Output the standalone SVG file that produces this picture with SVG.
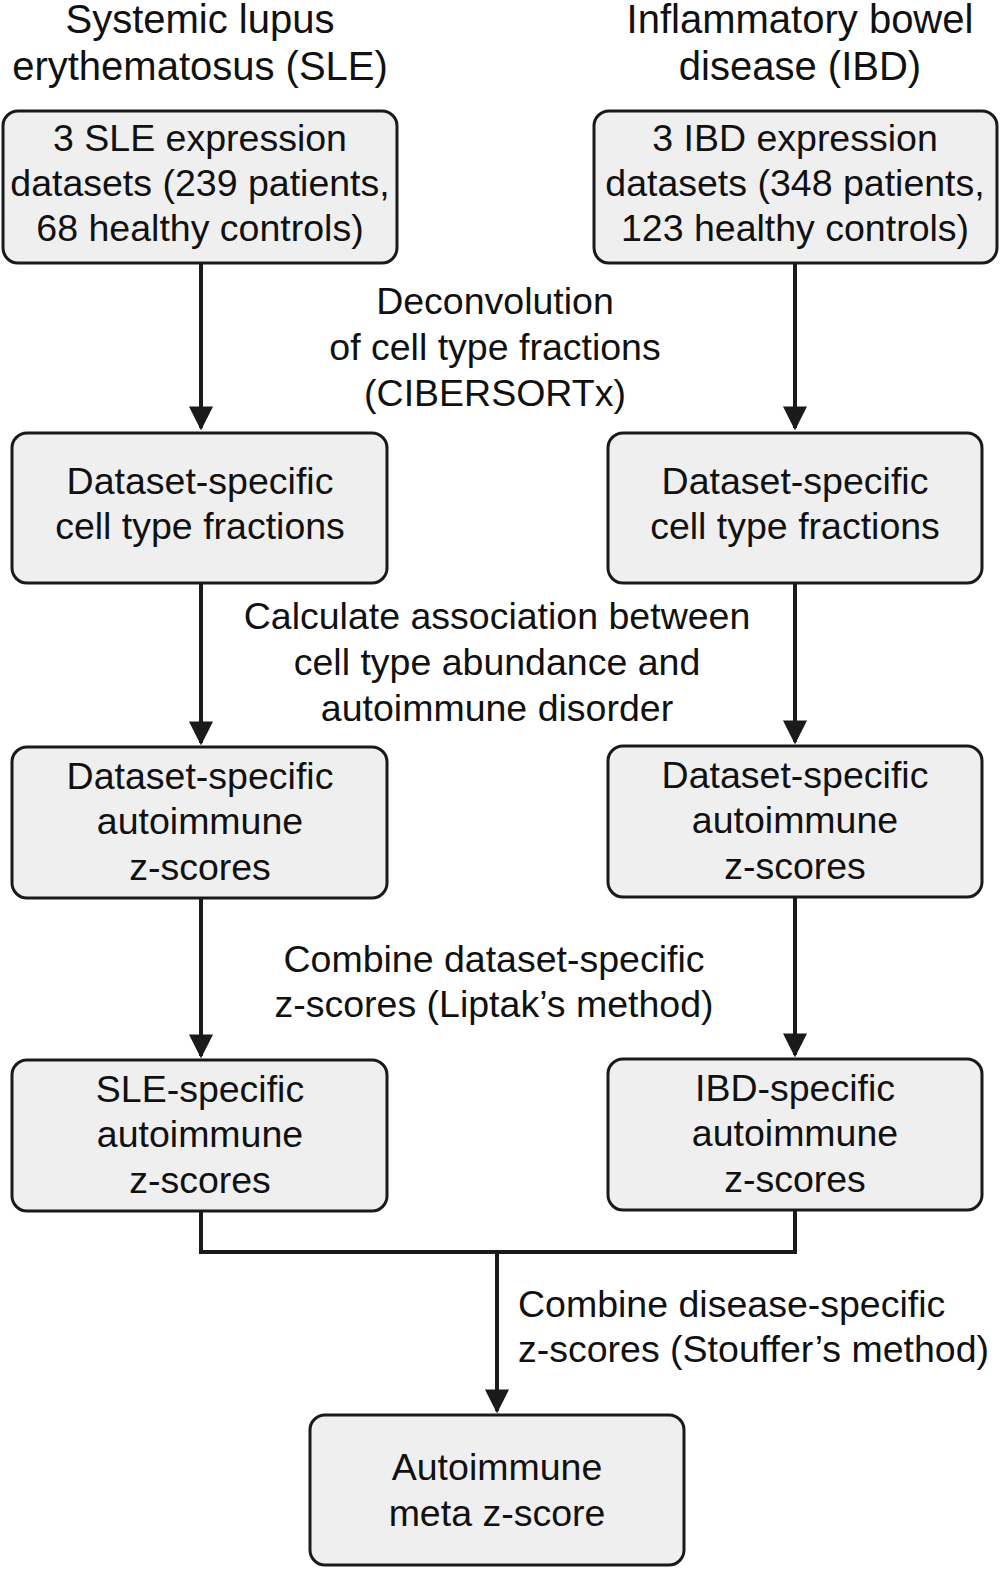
<svg xmlns="http://www.w3.org/2000/svg" width="1001" height="1572" viewBox="0 0 1001 1572">
<style>
text{font-family:"Liberation Sans",Arial,sans-serif;font-size:37.5px;fill:#111;text-anchor:middle}
.t{font-size:40px}
rect{fill:#efefef;stroke:#1a1a1a;stroke-width:3}
.c{fill:none;stroke:#1a1a1a;stroke-width:4}
.l{text-anchor:start}
</style>
<defs><marker id="a" viewBox="0 0 10 10" refX="9" refY="5" markerWidth="6" markerHeight="6" markerUnits="strokeWidth" orient="auto"><path d="M0,0L10,5L0,10z" fill="#1a1a1a"/></marker></defs>
<rect width="1001" height="1572" style="fill:#fff;stroke:none"/>
<g id="titles">
<text class="t" x="200" y="33">Systemic lupus</text>
<text class="t" x="200" y="80">erythematosus (SLE)</text>
<text class="t" x="800" y="33">Inflammatory bowel</text>
<text class="t" x="800" y="80">disease (IBD)</text>
</g>
<g id="connectors">
<path class="c" d="M201,264V428" marker-end="url(#a)"/>
<path class="c" d="M795,264V428" marker-end="url(#a)"/>
<path class="c" d="M201,584V743" marker-end="url(#a)"/>
<path class="c" d="M795,584V742" marker-end="url(#a)"/>
<path class="c" d="M201,898V1056" marker-end="url(#a)"/>
<path class="c" d="M795,898V1055" marker-end="url(#a)"/>
<path class="c" d="M201,1211V1252H795V1210"/>
<path class="c" d="M497,1252V1411" marker-end="url(#a)"/>
</g>
<g id="labels">
<text x="495" y="314">Deconvolution</text>
<text x="495" y="360">of cell type fractions</text>
<text x="495" y="406">(CIBERSORTx)</text>
<text x="497" y="629">Calculate association between</text>
<text x="497" y="675">cell type abundance and</text>
<text x="497" y="721">autoimmune disorder</text>
<text x="494" y="972">Combine dataset-specific</text>
<text x="494" y="1017">z-scores (Liptak’s method)</text>
<text class="l" x="518" y="1317">Combine disease-specific</text>
<text class="l" x="518" y="1362">z-scores (Stouffer’s method)</text>
</g>
<g id="sle1"><rect x="3" y="111" width="394" height="152" rx="15"/>
<text x="200" y="151">3 SLE expression</text><text x="200" y="196">datasets (239 patients,</text><text x="200" y="241">68 healthy controls)</text></g>
<g id="ibd1"><rect x="594" y="111" width="403" height="152" rx="15"/>
<text x="795" y="151">3 IBD expression</text><text x="795" y="196">datasets (348 patients,</text><text x="795" y="241">123 healthy controls)</text></g>
<g id="sle2"><rect x="12" y="433" width="375" height="150" rx="15"/>
<text x="200" y="494">Dataset-specific</text><text x="200" y="539">cell type fractions</text></g>
<g id="ibd2"><rect x="608" y="433" width="374" height="150" rx="15"/>
<text x="795" y="494">Dataset-specific</text><text x="795" y="539">cell type fractions</text></g>
<g id="sle3"><rect x="12" y="747" width="375" height="151" rx="15"/>
<text x="200" y="789">Dataset-specific</text><text x="200" y="834">autoimmune</text><text x="200" y="880">z-scores</text></g>
<g id="ibd3"><rect x="608" y="746" width="374" height="151" rx="15"/>
<text x="795" y="788">Dataset-specific</text><text x="795" y="833">autoimmune</text><text x="795" y="879">z-scores</text></g>
<g id="sle4"><rect x="12" y="1060" width="375" height="151" rx="15"/>
<text x="200" y="1102">SLE-specific</text><text x="200" y="1147">autoimmune</text><text x="200" y="1193">z-scores</text></g>
<g id="ibd4"><rect x="608" y="1059" width="374" height="151" rx="15"/>
<text x="795" y="1101">IBD-specific</text><text x="795" y="1146">autoimmune</text><text x="795" y="1192">z-scores</text></g>
<g id="meta"><rect x="310" y="1415" width="374" height="150" rx="15"/>
<text x="497" y="1480">Autoimmune</text><text x="497" y="1526">meta z-score</text></g>
</svg>
